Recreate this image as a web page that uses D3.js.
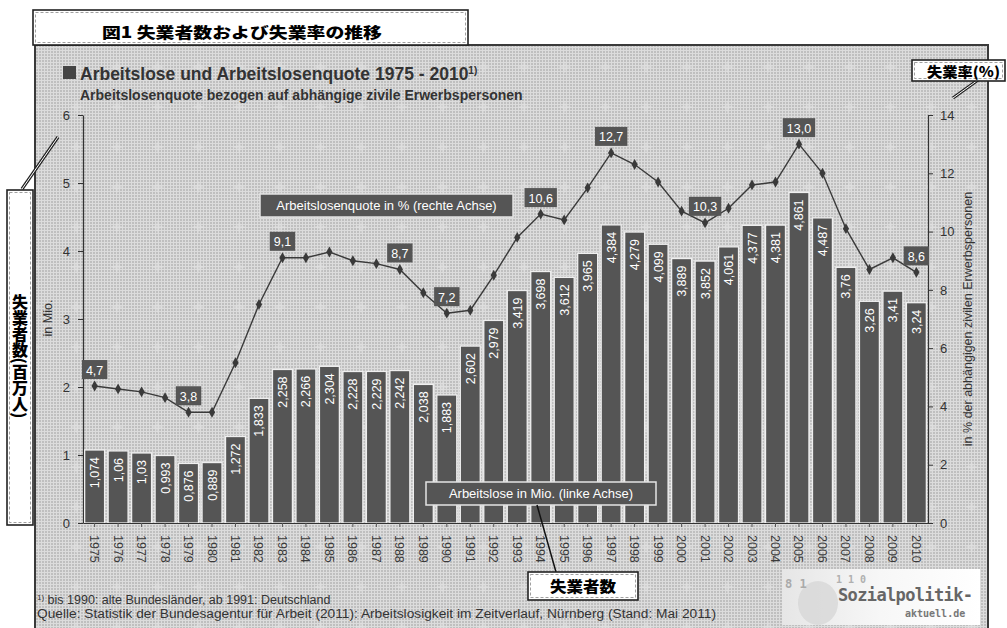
<!DOCTYPE html>
<html><head><meta charset="utf-8">
<script src="https://cdn.jsdelivr.net/npm/d3@7"></script>
<style>
body{margin:0;background:#fff}
svg{display:block}
text{font-family:"Liberation Sans",Arial,sans-serif}
.jp{font-family:"Noto Sans CJK JP","Noto Sans CJK SC",sans-serif;font-weight:900}
</style>
</head><body>
<svg id="c" width="1007" height="628"></svg>
<script>
// ---------- data ----------
const years = [1975,1976,1977,1978,1979,1980,1981,1982,1983,1984,1985,1986,1987,1988,1989,1990,1991,1992,
  1993,1994,1995,1996,1997,1998,1999,2000,2001,2002,2003,2004,2005,2006,2007,2008,2009,2010];
const unemployed = [1.074,1.06,1.03,0.993,0.876,0.889,1.272,1.833,2.258,2.266,2.304,2.228,2.229,2.242,2.038,1.883,
  2.602,2.979,3.419,3.698,3.612,3.965,4.384,4.279,4.099,3.889,3.852,4.061,4.377,4.381,4.861,4.487,3.76,3.26,3.41,3.24];
const rate = [4.7,4.6,4.5,4.3,3.8,3.8,5.5,7.5,9.1,9.1,9.3,9.0,8.9,8.7,7.9,7.2,
  7.3,8.5,9.8,10.6,10.4,11.5,12.7,12.3,11.7,10.7,10.3,10.8,11.6,11.7,13.0,12.0,10.1,8.7,9.1,8.6];
const rateLabelYears = [1975,1979,1983,1988,1990,1994,1997,2001,2005,2010];
const leftTicks = [0,1,2,3,4,5,6];
const rightTicks = [0,2,4,6,8,10,12,14];

const svg = d3.select("#c");
const defs = svg.append("defs");

// background texture
const pat = defs.append("pattern").attr("id","dots").attr("patternUnits","userSpaceOnUse")
  .attr("width",3).attr("height",3);
pat.append("rect").attr("width",3).attr("height",3).attr("fill","#dcdcdc");
pat.append("rect").attr("width",2).attr("height",2).attr("fill","#bfbfbf");

const pat2 = defs.append("pattern").attr("id","stars").attr("patternUnits","userSpaceOnUse")
  .attr("x",117-20.35).attr("y",147-20).attr("width",40.7).attr("height",40);
pat2.append("path").attr("d","M20.35,13 L22.5,20 L20.35,27 L18.2,20 Z M13,20 L20.35,18 L27.7,20 L20.35,22 Z")
  .attr("fill","#e2e2e2").attr("opacity",0.55);

const lg = defs.append("linearGradient").attr("id","logo").attr("x1","0").attr("x2","1");
lg.append("stop").attr("offset","0").attr("stop-color","#e6e6e6");
lg.append("stop").attr("offset","0.5").attr("stop-color","#f7f7f7");
lg.append("stop").attr("offset","1").attr("stop-color","#ffffff");

// panel
svg.append("rect").attr("x",35).attr("y",45).attr("width",953).attr("height",600).attr("fill","url(#dots)");
svg.append("rect").attr("x",35).attr("y",45).attr("width",953).attr("height",600).attr("fill","url(#stars)");
svg.append("rect").attr("x",35).attr("y",45).attr("width",953).attr("height",600)
  .attr("fill","none").attr("stroke","#3a3a3a").attr("stroke-width",2);

// scales
const x = d3.scaleBand().domain(years).range([83,928]).paddingInner(0.15).paddingOuter(0.07);
const yL = d3.scaleLinear().domain([0,6]).range([523,115]);
const yR = d3.scaleLinear().domain([0,14]).range([523,115]);
const cx = d => x(d) + x.bandwidth()/2;

// header
svg.append("rect").attr("x",63).attr("y",66).attr("width",13).attr("height",13).attr("fill","#444");
const t1 = svg.append("text").attr("x",80).attr("y",80).attr("font-size",17.5).attr("font-weight","bold").attr("fill","#333")
  .text("Arbeitslose und Arbeitslosenquote 1975 - 2010");
t1.append("tspan").attr("font-size",10).attr("dy",-6).text("1)");
svg.append("text").attr("x",80).attr("y",100).attr("font-size",14).attr("font-weight","bold").attr("fill","#333")
  .text("Arbeitslosenquote bezogen auf abhängige zivile Erwerbspersonen");

// axes
const fmt = d3.format("d");
const axL = svg.append("g").attr("transform","translate(83,0)")
  .call(d3.axisLeft(yL).tickValues(leftTicks).tickFormat(fmt).tickSize(5).tickSizeOuter(0).tickPadding(8));
const axR = svg.append("g").attr("transform","translate(928,0)")
  .call(d3.axisRight(yR).tickValues(rightTicks).tickFormat(fmt).tickSize(5).tickSizeOuter(0).tickPadding(7));
[axL,axR].forEach(a=>{
  a.selectAll("text").attr("font-size",13).attr("fill","#333").style("font-family","Liberation Sans, Arial, sans-serif");
  a.selectAll("line").attr("stroke","#333");
  a.select(".domain").attr("stroke","#333").attr("stroke-width",1.2);
});

// bars
svg.append("g").selectAll("rect").data(years).join("rect")
  .attr("x",d=>x(d)).attr("width",x.bandwidth())
  .attr("y",(d,i)=>yL(unemployed[i])).attr("height",(d,i)=>yL(0)-yL(unemployed[i]))
  .attr("fill","#555555").attr("stroke","#efefef").attr("stroke-width",1.3);

svg.append("g").selectAll("text").data(years).join("text")
  .attr("transform",(d,i)=>`translate(${cx(d)},${yL(unemployed[i])+7}) rotate(-90)`)
  .attr("text-anchor","end").attr("dy","0.36em").attr("font-size",12.5).attr("fill","#fff")
  .text((d,i)=>String(unemployed[i]).replace(".",","));

// x axis
const axB = svg.append("g").attr("transform","translate(0,523)")
  .call(d3.axisBottom(x).tickSize(4).tickSizeOuter(0));
axB.select(".domain").attr("stroke","#333").attr("stroke-width",1.2);
axB.selectAll("line").attr("stroke","#555");
axB.selectAll("text").attr("transform","rotate(90)").attr("x",12).attr("y",0).attr("dy","0.36em")
  .style("text-anchor","start").attr("font-size",12.5).attr("fill","#3a3a3a")
  .style("font-family","Liberation Sans, Arial, sans-serif");

// line
const line = d3.line().x((d,i)=>cx(years[i])).y(d=>yR(d));
svg.append("path").datum(rate).attr("d",line).attr("fill","none").attr("stroke","#3a3a3a").attr("stroke-width",1.4);
svg.append("g").selectAll("path").data(rate).join("path")
  .attr("transform",(d,i)=>`translate(${cx(years[i])},${yR(d)})`)
  .attr("d",d3.symbol(d3.symbolDiamond,34)).attr("fill","#3a3a3a");

// rate labels
const rl = svg.append("g");
rateLabelYears.forEach(yr=>{
  const i = years.indexOf(yr);
  const px = cx(yr), py = yR(rate[i]);
  const g = rl.append("g");
  const r = g.append("rect").attr("fill","#555");
  const t = g.append("text").attr("x",px).attr("y",py-11.5).attr("text-anchor","middle")
    .attr("font-size",12.5).attr("fill","#fff").text(rate[i].toFixed(1).replace(".",","));
  const w = t.node().getComputedTextLength()+8;
  r.attr("x",px-w/2).attr("y",py-26).attr("width",w).attr("height",19);
});

// legend boxes
function legBox(x0,y0,w,h,label){
  svg.append("rect").attr("x",x0).attr("y",y0).attr("width",w).attr("height",h)
    .attr("fill","#555").attr("stroke","#e4e4e4").attr("stroke-width",1.5);
  svg.append("text").attr("x",x0+w/2).attr("y",y0+h/2).attr("dy","0.36em").attr("text-anchor","middle")
    .attr("font-size",13).attr("fill","#fff").text(label);
}
legBox(260,194,253,23,"Arbeitslosenquote in % (rechte Achse)");
legBox(426,482,230,23,"Arbeitslose in Mio. (linke Achse)");

// axis titles
svg.append("text").attr("transform","translate(52,318) rotate(-90)").attr("text-anchor","middle")
  .attr("font-size",12.5).attr("fill","#333").text("in Mio.");
svg.append("text").attr("transform","translate(972,319) rotate(-90)").attr("text-anchor","middle")
  .attr("font-size",12.5).attr("fill","#333").text("in % der abhängigen zivilen Erwerbspersonen");

// footnotes
const f1 = svg.append("text").attr("x",37).attr("y",604).attr("font-size",12.5).attr("fill","#333");
f1.append("tspan").attr("font-size",8).attr("dy",-4).text("1)");
f1.append("tspan").attr("dy",4).text(" bis 1990: alte Bundesländer, ab 1991: Deutschland");
svg.append("text").attr("x",37).attr("y",618).attr("font-size",12.5).attr("fill","#333")
  .attr("textLength",679).attr("lengthAdjust","spacingAndGlyphs")
  .text("Quelle: Statistik der Bundesagentur für Arbeit (2011): Arbeitslosigkeit im Zeitverlauf, Nürnberg (Stand: Mai 2011)");

// logo
svg.append("rect").attr("x",782).attr("y",569).attr("width",198).attr("height",56).attr("fill","url(#logo)");
svg.append("ellipse").attr("cx",818).attr("cy",603).attr("rx",20).attr("ry",22).attr("fill","#d4d4d4").attr("opacity",0.7);
svg.append("text").attr("x",785).attr("y",588).attr("font-size",12).attr("fill","#aaa").attr("font-weight","bold")
  .style("font-family","DejaVu Sans Mono, monospace").text("8 1");
svg.append("text").attr("x",836).attr("y",583).attr("font-size",10).attr("fill","#b0b0b0").attr("font-weight","bold")
  .style("font-family","DejaVu Sans Mono, monospace").text("1 1 0");
svg.append("text").attr("x",838).attr("y",601).attr("font-size",17).attr("font-weight","bold").attr("fill","#666")
  .style("font-family","DejaVu Sans Mono, monospace").attr("textLength",135).text("Sozialpolitik-");
svg.append("text").attr("x",905).attr("y",617).attr("font-size",10).attr("font-weight","bold").attr("fill","#777")
  .style("font-family","DejaVu Sans Mono, monospace").text("aktuell.de");

// ---------- Japanese annotations ----------
function dblLine(x1,y1,x2,y2){
  svg.append("line").attr("x1",x1).attr("y1",y1).attr("x2",x2).attr("y2",y2).attr("stroke","#222").attr("stroke-width",3.2);
  svg.append("line").attr("x1",x1).attr("y1",y1).attr("x2",x2).attr("y2",y2).attr("stroke","#fff").attr("stroke-width",1);
}
function jpBox(x0,y0,w,h){
  svg.append("rect").attr("x",x0).attr("y",y0).attr("width",w).attr("height",h).attr("fill","#fff")
    .attr("stroke","#222").attr("stroke-width",1.6);
  svg.append("rect").attr("x",x0+2.5).attr("y",y0+2.5).attr("width",w-5).attr("height",h-5).attr("fill","none")
    .attr("stroke","#888").attr("stroke-width",0.8).attr("stroke-dasharray","3,2");
}
// title box
jpBox(33,10,435,35);
svg.append("text").attr("class","jp").attr("x",102).attr("y",38).attr("font-size",15)
  .attr("textLength",280).attr("lengthAdjust","spacingAndGlyphs").text("図1  失業者数および失業率の推移");

// right callout
dblLine(978,80,953,98);
jpBox(912,60,93,21);
svg.append("text").attr("class","jp").attr("x",927).attr("y",77).attr("font-size",14)
  .attr("textLength",73).attr("lengthAdjust","spacingAndGlyphs").text("失業率(%)");

// left callout
dblLine(22,189,58,137);
jpBox(7,190,26,335);
svg.append("text").attr("class","jp").attr("x",20).attr("y",356).attr("font-size",16)
  .style("writing-mode","vertical-rl").attr("text-anchor","middle").text("失業者数(百万人)");

// bottom callout
svg.append("line").attr("x1",537).attr("y1",505).attr("x2",556).attr("y2",572).attr("stroke","#111").attr("stroke-width",1.5);
jpBox(528,572,110,28);
svg.append("text").attr("class","jp").attr("x",550).attr("y",592).attr("font-size",15)
  .attr("textLength",66).attr("lengthAdjust","spacingAndGlyphs").text("失業者数");
</script>
</body></html>
